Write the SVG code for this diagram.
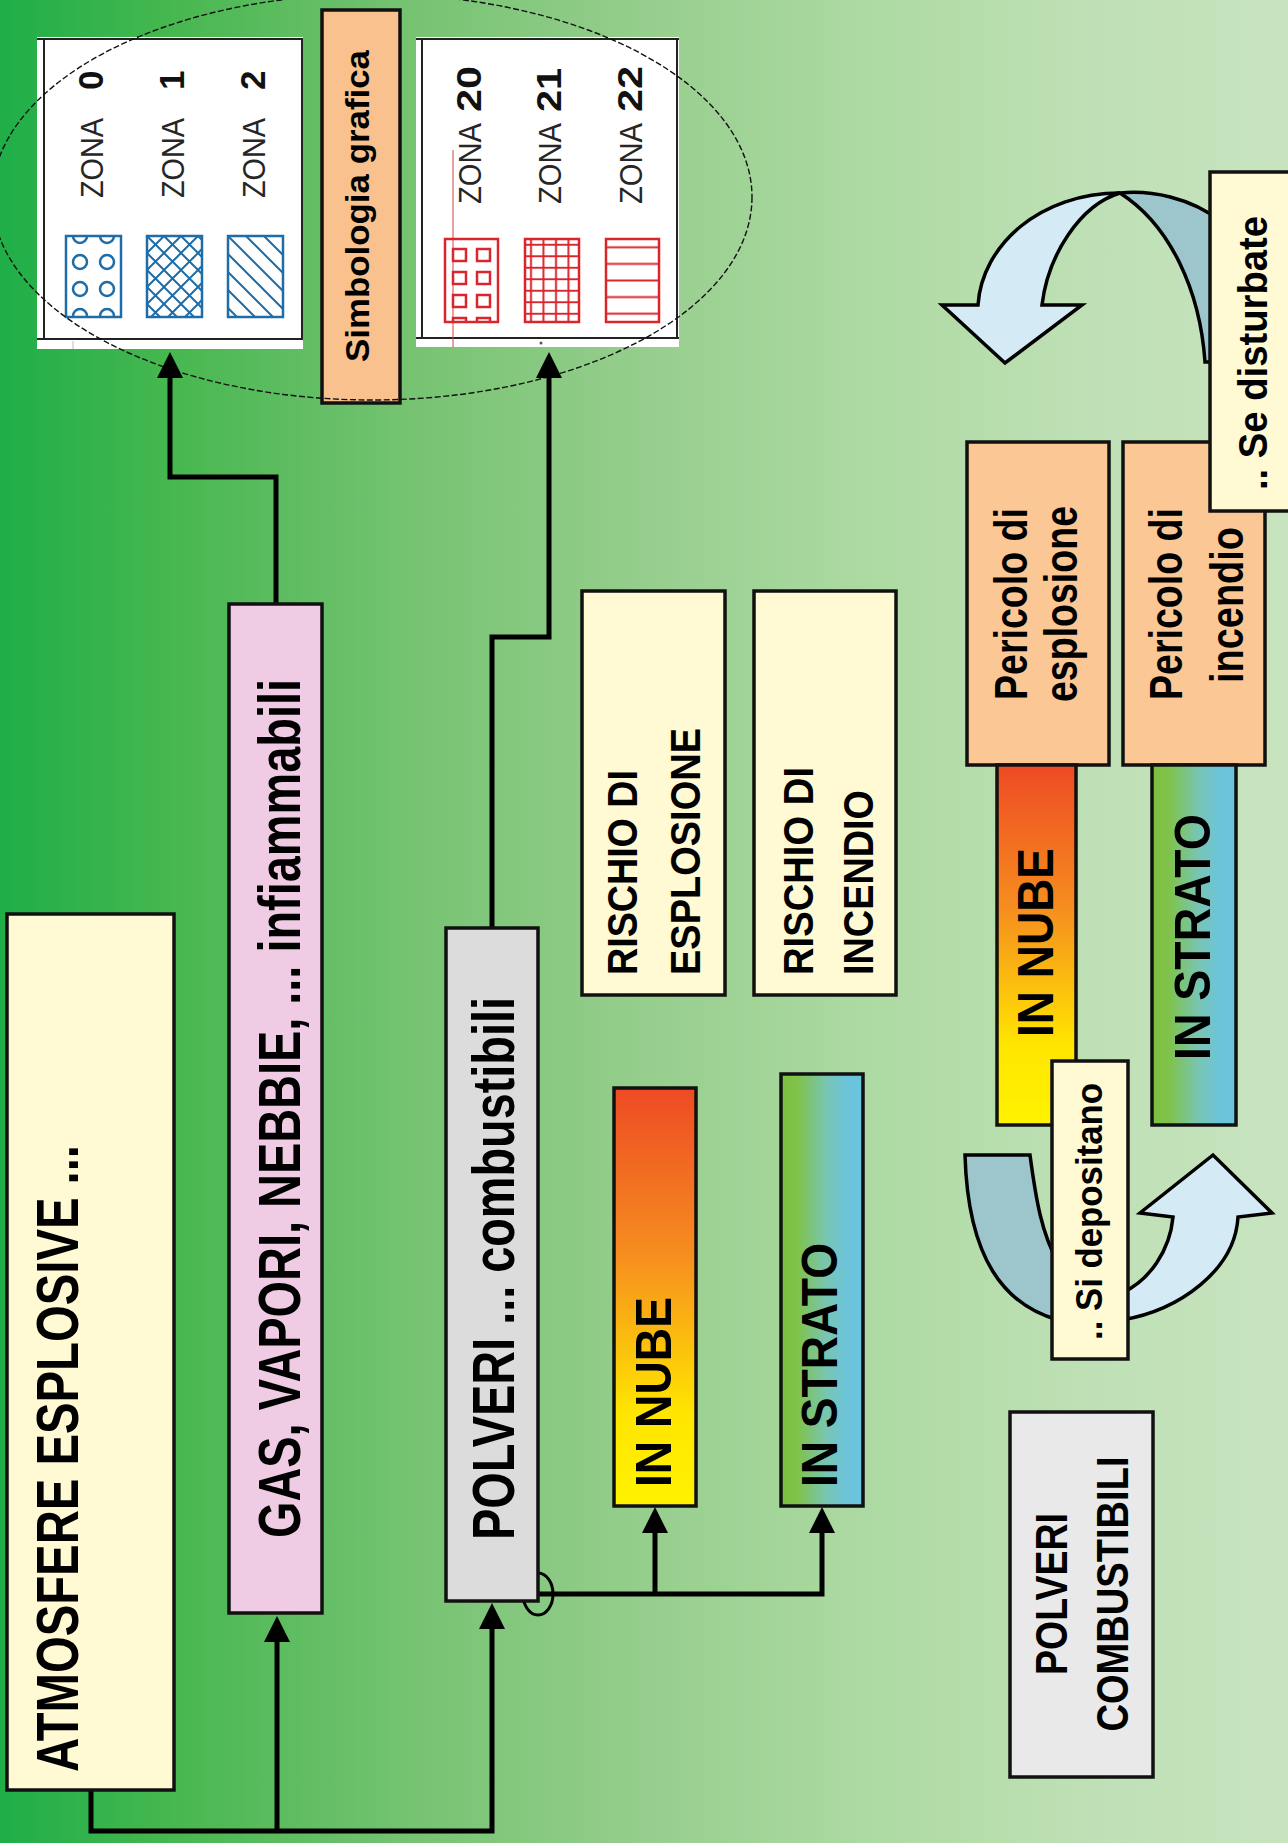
<svg xmlns="http://www.w3.org/2000/svg" width="1288" height="1843" viewBox="0 0 1288 1843">
  <defs>
    <linearGradient id="bg" x1="0" y1="0" x2="1" y2="0">
      <stop offset="0" stop-color="#1FAE48"/>
      <stop offset="0.13" stop-color="#46B74F"/>
      <stop offset="0.32" stop-color="#76C372"/>
      <stop offset="0.5" stop-color="#96CE8D"/>
      <stop offset="0.68" stop-color="#AEDAA3"/>
      <stop offset="0.85" stop-color="#BFE0B6"/>
      <stop offset="1" stop-color="#C7E4BF"/>
    </linearGradient>
    <linearGradient id="nube" x1="0" y1="0" x2="0" y2="1">
      <stop offset="0" stop-color="#EE4A24"/>
      <stop offset="0.4" stop-color="#F68E1F"/>
      <stop offset="0.78" stop-color="#FFE600"/>
      <stop offset="1" stop-color="#FFF200"/>
    </linearGradient>
    <linearGradient id="strato" x1="0" y1="0" x2="1" y2="0">
      <stop offset="0" stop-color="#7CC140"/>
      <stop offset="0.2" stop-color="#80C24A"/>
      <stop offset="0.55" stop-color="#78C5B2"/>
      <stop offset="0.8" stop-color="#6CC4DA"/>
      <stop offset="1" stop-color="#6BC4DF"/>
    </linearGradient>
    <marker id="arrow" viewBox="0 0 26 26" refX="2" refY="13" markerWidth="26" markerHeight="26" markerUnits="userSpaceOnUse" orient="auto">
      <path d="M0,0 L26,13 L0,26 Z" fill="#000"/>
    </marker>
    <pattern id="crossB" patternUnits="userSpaceOnUse" x="147" y="236" width="17" height="17">
      <path d="M-2,-2 L19,19 M19,-2 L-2,19" stroke="#1E6CA8" stroke-width="2"/>
    </pattern>
    <pattern id="diagB" patternUnits="userSpaceOnUse" x="228" y="236" width="18" height="18">
      <path d="M-2,-2 L20,20 M-20,-2 L2,20 M16,-2 L38,20" stroke="#1E6CA8" stroke-width="2"/>
    </pattern>
    <pattern id="gridR" patternUnits="userSpaceOnUse" x="525" y="239" width="12.5" height="11.5">
      <path d="M6,0 V11.5 M0,5.75 H12.5" stroke="#D9262C" stroke-width="2"/>
    </pattern>
    <pattern id="lineR" patternUnits="userSpaceOnUse" x="606" y="239" width="54" height="16.6">
      <path d="M0,8.3 H54" stroke="#D9262C" stroke-width="2"/>
    </pattern>
    <clipPath id="clipDots"><rect x="66" y="236" width="55" height="81"/></clipPath>
    <clipPath id="clipSq"><rect x="445" y="239" width="53" height="83"/></clipPath>
  </defs>
  <style>
    .box{stroke:#111;stroke-width:3.5}
    .wire{fill:none;stroke:#000;stroke-width:5}
    .cream{fill:#FFF9D4}
    .peach{fill:#FBC895}
    .t{font-family:"Liberation Sans Narrow","Liberation Sans",Arial,sans-serif;font-weight:bold;fill:#000}
    .zona{font-family:"Liberation Sans",Arial,sans-serif;font-size:31px;fill:#262626}
    .num{font-family:"Liberation Sans",Arial,sans-serif;font-weight:bold;font-size:35px;fill:#111}
    .blue{fill:none;stroke:#1E6CA8;stroke-width:2.5}
    .red{fill:none;stroke:#D9262C;stroke-width:2.5}
    .frame{stroke:#222;stroke-width:2;fill:none}
    .curl{stroke:#000;stroke-width:3.5;stroke-linejoin:miter}
  </style>

  <!-- background -->
  <rect x="0" y="0" width="1288" height="1843" fill="url(#bg)"/>

  <!-- legend: gas zones -->
  <g id="legend-gas">
    <rect x="37" y="37" width="266" height="312" fill="#fff"/>
    <path class="frame" d="M37,39 H303" stroke="#888"/>
    <path class="frame" d="M44,39 V340 M302,39 V340"/>
    <path class="frame" d="M37,339 H303" stroke-width="2.5"/>
    <path d="M73,341 V349" stroke="#bbb" stroke-width="1"/>
    <g clip-path="url(#clipDots)" class="blue" stroke-width="2">
      <circle cx="80" cy="236" r="7"/><circle cx="107" cy="236" r="7"/>
      <circle cx="80" cy="262" r="7"/><circle cx="107" cy="262" r="7"/>
      <circle cx="80" cy="289" r="7"/><circle cx="107" cy="289" r="7"/>
      <circle cx="80" cy="316" r="7"/><circle cx="107" cy="316" r="7"/>
    </g>
    <rect class="blue" x="66" y="236" width="55" height="81"/>
    <rect x="147" y="236" width="55" height="81" fill="url(#crossB)"/>
    <rect class="blue" x="147" y="236" width="55" height="81"/>
    <rect x="228" y="236" width="55" height="81" fill="url(#diagB)"/>
    <rect class="blue" x="228" y="236" width="55" height="81"/>
    <text class="zona" transform="translate(103 198) rotate(-90)" textLength="80" lengthAdjust="spacingAndGlyphs">ZONA</text>
    <text class="zona" transform="translate(184 198) rotate(-90)" textLength="80" lengthAdjust="spacingAndGlyphs">ZONA</text>
    <text class="zona" transform="translate(265 198) rotate(-90)" textLength="80" lengthAdjust="spacingAndGlyphs">ZONA</text>
    <text class="num" transform="translate(103 90) rotate(-90)">0</text>
    <text class="num" transform="translate(184 90) rotate(-90)">1</text>
    <text class="num" transform="translate(265 90) rotate(-90)">2</text>
  </g>

  <!-- legend: dust zones -->
  <g id="legend-dust">
    <rect x="416" y="37" width="263" height="310" fill="#fff"/>
    <path class="frame" d="M416,39 H679" stroke="#888"/>
    <path class="frame" d="M422,39 V338 M677,39 V338"/>
    <path class="frame" d="M416,338 H679" stroke-width="2.5"/>
    <path d="M453,150 V347" stroke="#C44" stroke-width="1"/>
    <circle cx="541" cy="343" r="1.5" fill="#555"/>
    <g clip-path="url(#clipSq)" class="red" stroke-width="2">
      <rect x="453" y="226" width="13" height="12"/><rect x="477" y="226" width="13" height="12"/>
      <rect x="453" y="249" width="13" height="12"/><rect x="477" y="249" width="13" height="12"/>
      <rect x="453" y="272" width="13" height="12"/><rect x="477" y="272" width="13" height="12"/>
      <rect x="453" y="295" width="13" height="12"/><rect x="477" y="295" width="13" height="12"/>
      <rect x="453" y="318" width="13" height="12"/><rect x="477" y="318" width="13" height="12"/>
    </g>
    <rect class="red" x="445" y="239" width="53" height="83"/>
    <rect x="525" y="239" width="54" height="83" fill="url(#gridR)"/>
    <rect class="red" x="525" y="239" width="54" height="83"/>
    <rect x="606" y="239" width="53" height="83" fill="url(#lineR)"/>
    <rect class="red" x="606" y="239" width="53" height="83"/>
    <text class="zona" transform="translate(481 204) rotate(-90)" textLength="81" lengthAdjust="spacingAndGlyphs">ZONA</text>
    <text class="zona" transform="translate(561 204) rotate(-90)" textLength="81" lengthAdjust="spacingAndGlyphs">ZONA</text>
    <text class="zona" transform="translate(642 204) rotate(-90)" textLength="81" lengthAdjust="spacingAndGlyphs">ZONA</text>
    <text class="num" font-size="37" transform="translate(481 112) rotate(-90)" textLength="46" lengthAdjust="spacingAndGlyphs">20</text>
    <text class="num" font-size="37" transform="translate(561 112) rotate(-90)" textLength="44" lengthAdjust="spacingAndGlyphs">21</text>
    <text class="num" font-size="37" transform="translate(642 112) rotate(-90)" textLength="46" lengthAdjust="spacingAndGlyphs">22</text>
  </g>

  <g id="simbologia">
    <rect class="box" x="322" y="10" width="78" height="393" fill="#F8C18D" stroke-width="3"/>
    <text class="t" font-size="34" transform="translate(369 362) rotate(-90)" textLength="312" lengthAdjust="spacingAndGlyphs">Simbologia grafica</text>
  </g>

  <!-- dashed outline around the legend -->
  <ellipse cx="372" cy="197" rx="380" ry="203" fill="none" stroke="#111" stroke-width="1.4" stroke-dasharray="6 2.5"/>

  <!-- connectors -->
  <g id="connectors">
    <path class="wire" d="M91,1790 V1831 H492 V1627" marker-end="url(#arrow)"/>
    <path class="wire" d="M277,1831 V1640" marker-end="url(#arrow)"/>
    <path class="wire" d="M276,604 V477 H170 V376" marker-end="url(#arrow)"/>
    <path class="wire" d="M492,928 V637 H549 V376" marker-end="url(#arrow)"/>
    <path class="wire" d="M538,1594 H822 V1531" marker-end="url(#arrow)"/>
    <path class="wire" d="M655,1594 V1531" marker-end="url(#arrow)"/>
    <ellipse cx="538" cy="1594" rx="15" ry="21" fill="none" stroke="#000" stroke-width="3"/>
  </g>

  <g id="atmosfere">
    <rect class="box cream" x="7" y="914" width="167" height="876"/>
    <text class="t" font-size="60" transform="translate(78 1772) rotate(-90)" textLength="627" lengthAdjust="spacingAndGlyphs">ATMOSFERE ESPLOSIVE ...</text>
  </g>

  <g id="gas">
    <rect class="box" x="229" y="604" width="93" height="1009" fill="#EFCBE4"/>
    <text class="t" font-size="60" transform="translate(300 1538) rotate(-90)" textLength="859" lengthAdjust="spacingAndGlyphs">GAS, VAPORI, NEBBIE, ... infiammabili</text>
  </g>

  <g id="polveri">
    <rect class="box" x="446" y="928" width="92" height="673" fill="#DCDCDC"/>
    <text class="t" font-size="60" transform="translate(514 1540) rotate(-90)" textLength="543" lengthAdjust="spacingAndGlyphs">POLVERI ... combustibili</text>
  </g>

  <g id="rischio-esplosione">
    <rect class="box cream" x="582" y="591" width="143" height="404"/>
    <text class="t" font-size="43" transform="translate(637 975) rotate(-90)" textLength="205" lengthAdjust="spacingAndGlyphs">RISCHIO DI</text>
    <text class="t" font-size="43" transform="translate(700 975) rotate(-90)" textLength="247" lengthAdjust="spacingAndGlyphs">ESPLOSIONE</text>
  </g>

  <g id="rischio-incendio">
    <rect class="box cream" x="754" y="591" width="142" height="404"/>
    <text class="t" font-size="43" transform="translate(813 975) rotate(-90)" textLength="208" lengthAdjust="spacingAndGlyphs">RISCHIO DI</text>
    <text class="t" font-size="43" transform="translate(873 975) rotate(-90)" textLength="185" lengthAdjust="spacingAndGlyphs">INCENDIO</text>
  </g>

  <g id="in-nube">
    <rect class="box" x="614" y="1088" width="82" height="418" fill="url(#nube)"/>
    <text class="t" font-size="50" transform="translate(671 1487) rotate(-90)" textLength="190" lengthAdjust="spacingAndGlyphs">IN NUBE</text>
  </g>

  <g id="in-strato">
    <rect class="box" x="781" y="1074" width="82" height="432" fill="url(#strato)"/>
    <text class="t" font-size="50" transform="translate(837 1487) rotate(-90)" textLength="244" lengthAdjust="spacingAndGlyphs">IN STRATO</text>
  </g>

  <!-- cycle: lifted dust / deposited dust -->
  <g id="curl-top">
    <path class="curl" d="M1120,193 C1150,190 1190,197 1222,222 L1222,362 L1205,362 C1200,290 1170,225 1120,193 Z" fill="#9DC6CC"/>
    <path class="curl" d="M978,305 C982,245 1040,193 1120,193 C1080,205 1048,255 1042,305 L1082,305 L1005,363 L942,305 Z" fill="#D4EBF5"/>
  </g>

  <g id="curl-bottom">
    <path class="curl" d="M965,1155 L1030,1155 C1036,1200 1042,1235 1058,1262 L1058,1320 C1005,1305 968,1260 965,1155 Z" fill="#9DC6CC"/>
    <path class="curl" d="M1122,1293 C1150,1280 1170,1250 1173,1217 L1140,1213 L1213,1155 L1272,1213 L1238,1217 C1235,1270 1180,1310 1122,1320 Z" fill="#D4EBF5"/>
  </g>

  <g id="pericolo-esplosione">
    <rect class="box peach" x="967" y="442" width="142" height="323"/>
    <text class="t" font-size="46" text-anchor="middle" transform="translate(1027 604) rotate(-90)" textLength="192" lengthAdjust="spacingAndGlyphs">Pericolo di</text>
    <text class="t" font-size="46" text-anchor="middle" transform="translate(1077 604) rotate(-90)" textLength="196" lengthAdjust="spacingAndGlyphs">esplosione</text>
  </g>

  <g id="pericolo-incendio">
    <rect class="box peach" x="1123" y="442" width="142" height="323"/>
    <text class="t" font-size="46" text-anchor="middle" transform="translate(1182 604) rotate(-90)" textLength="192" lengthAdjust="spacingAndGlyphs">Pericolo di</text>
    <text class="t" font-size="46" text-anchor="middle" transform="translate(1243 605) rotate(-90)" textLength="156" lengthAdjust="spacingAndGlyphs">incendio</text>
  </g>

  <g id="in-nube-2">
    <rect class="box" x="997" y="765" width="79" height="360" fill="url(#nube)"/>
    <text class="t" font-size="50" transform="translate(1053 1037) rotate(-90)" textLength="189" lengthAdjust="spacingAndGlyphs">IN NUBE</text>
  </g>

  <g id="in-strato-2">
    <rect class="box" x="1152" y="765" width="84" height="360" fill="url(#strato)"/>
    <text class="t" font-size="50" transform="translate(1210 1060) rotate(-90)" textLength="246" lengthAdjust="spacingAndGlyphs">IN STRATO</text>
  </g>

  <g id="se-disturbate">
    <rect class="box cream" x="1210" y="172" width="90" height="339"/>
    <text class="t" font-size="40" transform="translate(1267 490) rotate(-90)" textLength="274" lengthAdjust="spacingAndGlyphs">.. Se disturbate</text>
  </g>

  <g id="si-depositano">
    <rect class="box cream" x="1052" y="1061" width="76" height="298"/>
    <text class="t" font-size="37" transform="translate(1102 1340) rotate(-90)" textLength="257" lengthAdjust="spacingAndGlyphs">.. Si depositano</text>
  </g>

  <g id="polveri-combustibili">
    <rect class="box" x="1010" y="1412" width="143" height="365" fill="#E9E9E9"/>
    <text class="t" font-size="45" text-anchor="middle" transform="translate(1067 1594) rotate(-90)" textLength="162" lengthAdjust="spacingAndGlyphs">POLVERI</text>
    <text class="t" font-size="45" text-anchor="middle" transform="translate(1128 1594) rotate(-90)" textLength="275" lengthAdjust="spacingAndGlyphs">COMBUSTIBILI</text>
  </g>
</svg>
